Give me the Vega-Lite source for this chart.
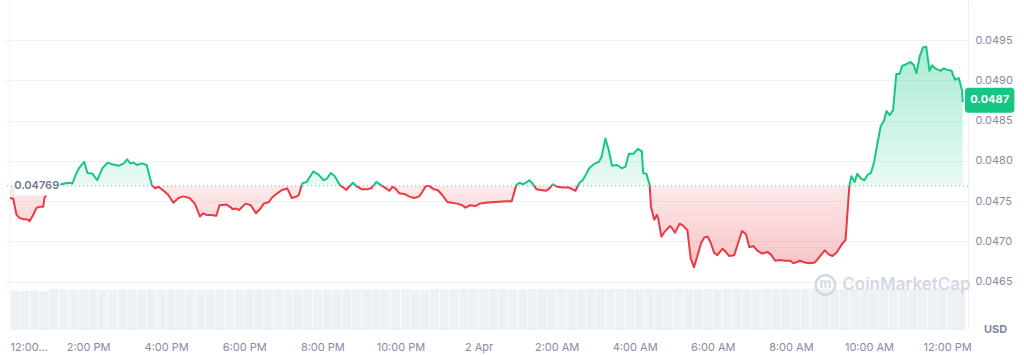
{
"$schema": "https://vega.github.io/schema/vega-lite/v6.json",
"width": 963, "height": 330, "autosize": "none",
"padding": {"left": 5, "top": 0, "right": 56, "bottom": 25},
"background": "white",
"config": {"view": {"stroke": null}, "font": "Inter",
  "axis": {"labelFont": "Inter", "labelColor": "#858ca2", "labelFontSize": 11, "ticks": false, "domain": false, "gridColor": "#eff2f5", "titleFont": "Inter"}},
"datasets": {
"vol": [
{"t":"2024-04-01T12:07:30Z","v":0.95},{"t":"2024-04-01T12:22:30Z","v":0.95},{"t":"2024-04-01T12:37:30Z","v":0.955},{"t":"2024-04-01T12:52:30Z","v":0.95},
{"t":"2024-04-01T13:07:30Z","v":1.0},{"t":"2024-04-01T13:22:30Z","v":0.99},{"t":"2024-04-01T13:37:30Z","v":0.985},{"t":"2024-04-01T13:52:30Z","v":0.985},
{"t":"2024-04-01T14:07:30Z","v":0.99},{"t":"2024-04-01T14:22:30Z","v":0.985},{"t":"2024-04-01T14:37:30Z","v":0.985},{"t":"2024-04-01T14:52:30Z","v":0.99},
{"t":"2024-04-01T15:07:30Z","v":0.985},{"t":"2024-04-01T15:22:30Z","v":0.985},{"t":"2024-04-01T15:37:30Z","v":0.99},{"t":"2024-04-01T15:52:30Z","v":0.985},
{"t":"2024-04-01T16:07:30Z","v":0.985},{"t":"2024-04-01T16:22:30Z","v":0.99},{"t":"2024-04-01T16:37:30Z","v":0.985},{"t":"2024-04-01T16:52:30Z","v":0.985},
{"t":"2024-04-01T17:07:30Z","v":0.985},{"t":"2024-04-01T17:22:30Z","v":0.99},{"t":"2024-04-01T17:37:30Z","v":0.985},{"t":"2024-04-01T17:52:30Z","v":0.985},
{"t":"2024-04-01T18:07:30Z","v":0.99},{"t":"2024-04-01T18:22:30Z","v":0.985},{"t":"2024-04-01T18:37:30Z","v":0.985},{"t":"2024-04-01T18:52:30Z","v":0.99},
{"t":"2024-04-01T19:07:30Z","v":0.985},{"t":"2024-04-01T19:22:30Z","v":0.985},{"t":"2024-04-01T19:37:30Z","v":0.99},{"t":"2024-04-01T19:52:30Z","v":0.985},
{"t":"2024-04-01T20:07:30Z","v":0.985},{"t":"2024-04-01T20:22:30Z","v":0.985},{"t":"2024-04-01T20:37:30Z","v":0.99},{"t":"2024-04-01T20:52:30Z","v":0.985},
{"t":"2024-04-01T21:07:30Z","v":0.985},{"t":"2024-04-01T21:22:30Z","v":0.99},{"t":"2024-04-01T21:37:30Z","v":0.985},{"t":"2024-04-01T21:52:30Z","v":0.985},
{"t":"2024-04-01T22:07:30Z","v":0.99},{"t":"2024-04-01T22:22:30Z","v":0.985},{"t":"2024-04-01T22:37:30Z","v":0.985},{"t":"2024-04-01T22:52:30Z","v":0.99},
{"t":"2024-04-01T23:07:30Z","v":0.985},{"t":"2024-04-01T23:22:30Z","v":0.99},{"t":"2024-04-01T23:37:30Z","v":1.0},{"t":"2024-04-01T23:52:30Z","v":1.0},
{"t":"2024-04-02T00:07:30Z","v":1.0},{"t":"2024-04-02T00:22:30Z","v":0.995},{"t":"2024-04-02T00:37:30Z","v":0.99},{"t":"2024-04-02T00:52:30Z","v":0.99},
{"t":"2024-04-02T01:07:30Z","v":0.99},{"t":"2024-04-02T01:22:30Z","v":0.995},{"t":"2024-04-02T01:37:30Z","v":0.99},{"t":"2024-04-02T01:52:30Z","v":0.99},
{"t":"2024-04-02T02:07:30Z","v":0.995},{"t":"2024-04-02T02:22:30Z","v":0.99},{"t":"2024-04-02T02:37:30Z","v":0.99},{"t":"2024-04-02T02:52:30Z","v":0.995},
{"t":"2024-04-02T03:07:30Z","v":0.99},{"t":"2024-04-02T03:22:30Z","v":0.99},{"t":"2024-04-02T03:37:30Z","v":0.995},{"t":"2024-04-02T03:52:30Z","v":0.99},
{"t":"2024-04-02T04:07:30Z","v":0.99},{"t":"2024-04-02T04:22:30Z","v":0.995},{"t":"2024-04-02T04:37:30Z","v":0.99},{"t":"2024-04-02T04:52:30Z","v":0.99},
{"t":"2024-04-02T05:07:30Z","v":0.995},{"t":"2024-04-02T05:22:30Z","v":0.99},{"t":"2024-04-02T05:37:30Z","v":0.99},{"t":"2024-04-02T05:52:30Z","v":0.995},
{"t":"2024-04-02T06:07:30Z","v":0.99},{"t":"2024-04-02T06:22:30Z","v":0.99},{"t":"2024-04-02T06:37:30Z","v":0.995},{"t":"2024-04-02T06:52:30Z","v":0.99},
{"t":"2024-04-02T07:07:30Z","v":0.99},{"t":"2024-04-02T07:22:30Z","v":0.995},{"t":"2024-04-02T07:37:30Z","v":0.99},{"t":"2024-04-02T07:52:30Z","v":0.995},
{"t":"2024-04-02T08:07:30Z","v":1.0},{"t":"2024-04-02T08:22:30Z","v":1.0},{"t":"2024-04-02T08:37:30Z","v":1.0},{"t":"2024-04-02T08:52:30Z","v":1.0},
{"t":"2024-04-02T09:07:30Z","v":1.0},{"t":"2024-04-02T09:22:30Z","v":1.0},{"t":"2024-04-02T09:37:30Z","v":0.995},{"t":"2024-04-02T09:52:30Z","v":0.995},
{"t":"2024-04-02T10:07:30Z","v":0.995},{"t":"2024-04-02T10:22:30Z","v":0.995},{"t":"2024-04-02T10:37:30Z","v":0.995},{"t":"2024-04-02T10:52:30Z","v":0.995},
{"t":"2024-04-02T11:07:30Z","v":0.995},{"t":"2024-04-02T11:22:30Z","v":0.995},{"t":"2024-04-02T11:37:30Z","v":0.995},{"t":"2024-04-02T11:52:30Z","v":0.995},
{"t":"2024-04-02T12:07:30Z","v":0.995},{"t":"2024-04-02T12:21:00Z","v":0.995}
],
"price": [
{"t":"2024-04-01T12:00Z","p":0.04754},{"t":"2024-04-01T12:05Z","p":0.04753},{"t":"2024-04-01T12:10Z","p":0.04733},{"t":"2024-04-01T12:15Z","p":0.04729},
{"t":"2024-04-01T12:20Z","p":0.04728},{"t":"2024-04-01T12:28Z","p":0.04727},{"t":"2024-04-01T12:30Z","p":0.04725},{"t":"2024-04-01T12:35Z","p":0.04732},
{"t":"2024-04-01T12:41Z","p":0.04742},{"t":"2024-04-01T12:46Z","p":0.04743},{"t":"2024-04-01T12:51Z","p":0.04743},{"t":"2024-04-01T12:53Z","p":0.04754},
{"t":"2024-04-01T13:01Z","p":0.04765},{"t":"2024-04-01T13:11Z","p":0.04770},{"t":"2024-04-01T13:19Z","p":0.04771},{"t":"2024-04-01T13:24Z","p":0.04772},
{"t":"2024-04-01T13:31Z","p":0.04773},{"t":"2024-04-01T13:36Z","p":0.04772},{"t":"2024-04-01T13:41Z","p":0.04783},{"t":"2024-04-01T13:46Z","p":0.04791},
{"t":"2024-04-01T13:54Z","p":0.04799},{"t":"2024-04-01T13:59Z","p":0.04785},{"t":"2024-04-01T14:07Z","p":0.04784},{"t":"2024-04-01T14:14Z","p":0.04776},
{"t":"2024-04-01T14:22Z","p":0.04791},{"t":"2024-04-01T14:30Z","p":0.04798},{"t":"2024-04-01T14:37Z","p":0.04796},{"t":"2024-04-01T14:47Z","p":0.04794},
{"t":"2024-04-01T14:55Z","p":0.04797},{"t":"2024-04-01T15:00Z","p":0.04802},{"t":"2024-04-01T15:05Z","p":0.04797},{"t":"2024-04-01T15:10Z","p":0.04798},
{"t":"2024-04-01T15:15Z","p":0.04795},{"t":"2024-04-01T15:23Z","p":0.04797},{"t":"2024-04-01T15:30Z","p":0.04795},{"t":"2024-04-01T15:38Z","p":0.04770},
{"t":"2024-04-01T15:43Z","p":0.04766},{"t":"2024-04-01T15:48Z","p":0.04768},{"t":"2024-04-01T15:56Z","p":0.04763},{"t":"2024-04-01T16:03Z","p":0.04758},
{"t":"2024-04-01T16:11Z","p":0.04748},{"t":"2024-04-01T16:19Z","p":0.04754},{"t":"2024-04-01T16:26Z","p":0.04756},{"t":"2024-04-01T16:36Z","p":0.04754},
{"t":"2024-04-01T16:44Z","p":0.04747},{"t":"2024-04-01T16:52Z","p":0.04731},{"t":"2024-04-01T16:57Z","p":0.04735},{"t":"2024-04-01T17:02Z","p":0.04733},
{"t":"2024-04-01T17:09Z","p":0.04733},{"t":"2024-04-01T17:17Z","p":0.04732},{"t":"2024-04-01T17:22Z","p":0.04745},{"t":"2024-04-01T17:32Z","p":0.04746},
{"t":"2024-04-01T17:40Z","p":0.04742},{"t":"2024-04-01T17:42Z","p":0.04740},{"t":"2024-04-01T17:47Z","p":0.04741},{"t":"2024-04-01T17:52Z","p":0.04739},
{"t":"2024-04-01T18:02Z","p":0.04747},{"t":"2024-04-01T18:10Z","p":0.04745},{"t":"2024-04-01T18:18Z","p":0.04735},{"t":"2024-04-01T18:25Z","p":0.04741},
{"t":"2024-04-01T18:30Z","p":0.04747},{"t":"2024-04-01T18:38Z","p":0.04749},{"t":"2024-04-01T18:43Z","p":0.04755},{"t":"2024-04-01T18:51Z","p":0.04760},
{"t":"2024-04-01T18:58Z","p":0.04764},{"t":"2024-04-01T19:06Z","p":0.04766},{"t":"2024-04-01T19:13Z","p":0.04754},{"t":"2024-04-01T19:21Z","p":0.04756},
{"t":"2024-04-01T19:24Z","p":0.04758},{"t":"2024-04-01T19:29Z","p":0.04772},{"t":"2024-04-01T19:36Z","p":0.04774},{"t":"2024-04-01T19:46Z","p":0.04787},
{"t":"2024-04-01T19:54Z","p":0.04783},{"t":"2024-04-01T20:02Z","p":0.04776},{"t":"2024-04-01T20:07Z","p":0.04778},{"t":"2024-04-01T20:13Z","p":0.04785},
{"t":"2024-04-01T20:19Z","p":0.04781},{"t":"2024-04-01T20:27Z","p":0.04770},{"t":"2024-04-01T20:32Z","p":0.04767},{"t":"2024-04-01T20:37Z","p":0.04764},
{"t":"2024-04-01T20:42Z","p":0.04769},{"t":"2024-04-01T20:47Z","p":0.04773},{"t":"2024-04-01T20:52Z","p":0.04769},{"t":"2024-04-01T21:00Z","p":0.04765},
{"t":"2024-04-01T21:10Z","p":0.04765},{"t":"2024-04-01T21:15Z","p":0.04766},{"t":"2024-04-01T21:23Z","p":0.04774},{"t":"2024-04-01T21:30Z","p":0.04770},
{"t":"2024-04-01T21:38Z","p":0.04766},{"t":"2024-04-01T21:43Z","p":0.04763},{"t":"2024-04-01T21:48Z","p":0.04768},{"t":"2024-04-01T21:53Z","p":0.04765},
{"t":"2024-04-01T21:58Z","p":0.04760},{"t":"2024-04-01T22:06Z","p":0.04759},{"t":"2024-04-01T22:13Z","p":0.04756},{"t":"2024-04-01T22:21Z","p":0.04754},
{"t":"2024-04-01T22:29Z","p":0.04756},{"t":"2024-04-01T22:34Z","p":0.04762},{"t":"2024-04-01T22:39Z","p":0.04769},{"t":"2024-04-01T22:44Z","p":0.04769},
{"t":"2024-04-01T22:51Z","p":0.04765},{"t":"2024-04-01T22:57Z","p":0.04764},{"t":"2024-04-01T23:04Z","p":0.04758},{"t":"2024-04-01T23:12Z","p":0.04749},
{"t":"2024-04-01T23:19Z","p":0.04748},{"t":"2024-04-01T23:27Z","p":0.04747},{"t":"2024-04-01T23:35Z","p":0.04745},{"t":"2024-04-01T23:40Z","p":0.04742},
{"t":"2024-04-01T23:47Z","p":0.04745},{"t":"2024-04-01T23:55Z","p":0.04744},{"t":"2024-04-02T00:02Z","p":0.04747},{"t":"2024-04-02T00:10Z","p":0.04748},
{"t":"2024-04-02T00:25Z","p":0.04749},{"t":"2024-04-02T00:43Z","p":0.04750},{"t":"2024-04-02T00:51Z","p":0.04750},{"t":"2024-04-02T00:58Z","p":0.04770},
{"t":"2024-04-02T01:03Z","p":0.04773},{"t":"2024-04-02T01:08Z","p":0.04771},{"t":"2024-04-02T01:13Z","p":0.04773},{"t":"2024-04-02T01:18Z","p":0.04776},
{"t":"2024-04-02T01:23Z","p":0.04772},{"t":"2024-04-02T01:29Z","p":0.04765},{"t":"2024-04-02T01:36Z","p":0.04764},{"t":"2024-04-02T01:44Z","p":0.04763},
{"t":"2024-04-02T01:49Z","p":0.04766},{"t":"2024-04-02T01:54Z","p":0.04771},{"t":"2024-04-02T02:01Z","p":0.04768},{"t":"2024-04-02T02:09Z","p":0.04767},
{"t":"2024-04-02T02:19Z","p":0.04767},{"t":"2024-04-02T02:29Z","p":0.04763},{"t":"2024-04-02T02:35Z","p":0.04773},{"t":"2024-04-02T02:40Z","p":0.04776},
{"t":"2024-04-02T02:45Z","p":0.04783},{"t":"2024-04-02T02:50Z","p":0.04791},{"t":"2024-04-02T02:57Z","p":0.04796},{"t":"2024-04-02T03:05Z","p":0.04799},
{"t":"2024-04-02T03:09Z","p":0.04805},{"t":"2024-04-02T03:15Z","p":0.04828},{"t":"2024-04-02T03:20Z","p":0.04814},{"t":"2024-04-02T03:25Z","p":0.04794},
{"t":"2024-04-02T03:33Z","p":0.04795},{"t":"2024-04-02T03:40Z","p":0.04791},{"t":"2024-04-02T03:46Z","p":0.04793},{"t":"2024-04-02T03:51Z","p":0.04809},
{"t":"2024-04-02T03:58Z","p":0.04809},{"t":"2024-04-02T04:05Z","p":0.04815},{"t":"2024-04-02T04:11Z","p":0.04812},{"t":"2024-04-02T04:13Z","p":0.04785},
{"t":"2024-04-02T04:18Z","p":0.04784},{"t":"2024-04-02T04:23Z","p":0.04770},{"t":"2024-04-02T04:25Z","p":0.04743},{"t":"2024-04-02T04:30Z","p":0.04727},
{"t":"2024-04-02T04:34Z","p":0.04733},{"t":"2024-04-02T04:36Z","p":0.04729},{"t":"2024-04-02T04:41Z","p":0.04706},{"t":"2024-04-02T04:46Z","p":0.04712},
{"t":"2024-04-02T04:54Z","p":0.04719},{"t":"2024-04-02T04:56Z","p":0.04718},{"t":"2024-04-02T05:02Z","p":0.04711},{"t":"2024-04-02T05:09Z","p":0.04722},
{"t":"2024-04-02T05:14Z","p":0.04720},{"t":"2024-04-02T05:21Z","p":0.04714},{"t":"2024-04-02T05:26Z","p":0.04679},{"t":"2024-04-02T05:31Z","p":0.04668},
{"t":"2024-04-02T05:36Z","p":0.04681},{"t":"2024-04-02T05:42Z","p":0.04698},{"t":"2024-04-02T05:47Z","p":0.04705},{"t":"2024-04-02T05:52Z","p":0.04706},
{"t":"2024-04-02T05:57Z","p":0.04698},{"t":"2024-04-02T06:02Z","p":0.04686},{"t":"2024-04-02T06:07Z","p":0.04683},{"t":"2024-04-02T06:15Z","p":0.04691},
{"t":"2024-04-02T06:20Z","p":0.04687},{"t":"2024-04-02T06:25Z","p":0.04682},{"t":"2024-04-02T06:33Z","p":0.04683},{"t":"2024-04-02T06:38Z","p":0.04696},
{"t":"2024-04-02T06:45Z","p":0.04713},{"t":"2024-04-02T06:51Z","p":0.04709},{"t":"2024-04-02T06:56Z","p":0.04693},{"t":"2024-04-02T07:03Z","p":0.04694},
{"t":"2024-04-02T07:08Z","p":0.04689},{"t":"2024-04-02T07:16Z","p":0.04685},{"t":"2024-04-02T07:24Z","p":0.04687},{"t":"2024-04-02T07:29Z","p":0.04684},
{"t":"2024-04-02T07:36Z","p":0.04676},{"t":"2024-04-02T07:44Z","p":0.04677},{"t":"2024-04-02T07:51Z","p":0.04676},{"t":"2024-04-02T07:59Z","p":0.04676},
{"t":"2024-04-02T08:04Z","p":0.04673},{"t":"2024-04-02T08:14Z","p":0.04676},{"t":"2024-04-02T08:21Z","p":0.04674},{"t":"2024-04-02T08:29Z","p":0.04673},
{"t":"2024-04-02T08:37Z","p":0.04674},{"t":"2024-04-02T08:44Z","p":0.04681},{"t":"2024-04-02T08:52Z","p":0.04689},{"t":"2024-04-02T08:58Z","p":0.04684},
{"t":"2024-04-02T09:04Z","p":0.04682},{"t":"2024-04-02T09:10Z","p":0.04686},{"t":"2024-04-02T09:18Z","p":0.04696},{"t":"2024-04-02T09:24Z","p":0.04702},
{"t":"2024-04-02T09:30Z","p":0.04770},{"t":"2024-04-02T09:33Z","p":0.04781},{"t":"2024-04-02T09:38Z","p":0.04774},{"t":"2024-04-02T09:42Z","p":0.04784},
{"t":"2024-04-02T09:48Z","p":0.04778},{"t":"2024-04-02T09:53Z","p":0.04776},{"t":"2024-04-02T09:58Z","p":0.04783},{"t":"2024-04-02T10:03Z","p":0.04785},
{"t":"2024-04-02T10:08Z","p":0.04799},{"t":"2024-04-02T10:13Z","p":0.04822},{"t":"2024-04-02T10:18Z","p":0.04843},{"t":"2024-04-02T10:23Z","p":0.04850},
{"t":"2024-04-02T10:27Z","p":0.04862},{"t":"2024-04-02T10:32Z","p":0.04857},{"t":"2024-04-02T10:37Z","p":0.04863},{"t":"2024-04-02T10:42Z","p":0.04908},
{"t":"2024-04-02T10:47Z","p":0.04908},{"t":"2024-04-02T10:51Z","p":0.04918},{"t":"2024-04-02T10:59Z","p":0.04921},{"t":"2024-04-02T11:04Z","p":0.04923},
{"t":"2024-04-02T11:09Z","p":0.04919},{"t":"2024-04-02T11:13Z","p":0.04909},{"t":"2024-04-02T11:18Z","p":0.04930},{"t":"2024-04-02T11:23Z","p":0.04941},
{"t":"2024-04-02T11:28Z","p":0.04942},{"t":"2024-04-02T11:33Z","p":0.04912},{"t":"2024-04-02T11:37Z","p":0.04919},{"t":"2024-04-02T11:42Z","p":0.04915},
{"t":"2024-04-02T11:50Z","p":0.04912},{"t":"2024-04-02T11:55Z","p":0.04915},{"t":"2024-04-02T12:01Z","p":0.04913},{"t":"2024-04-02T12:07Z","p":0.04912},
{"t":"2024-04-02T12:12Z","p":0.04901},{"t":"2024-04-02T12:18Z","p":0.04903},{"t":"2024-04-02T12:23Z","p":0.04888},{"t":"2024-04-02T12:24Z","p":0.04873}
]
},
"layer": [
{
  "data": {"name": "vol"},
  "mark": {"type": "bar", "size": 9, "color": "#edf0f5"},
  "encoding": {
    "x": {"field": "t", "type": "temporal", "title": null,
      "scale": {"type": "utc", "domain": [{"year": 2024, "month": 4, "date": 1, "hours": 12, "utc": true}, {"year": 2024, "month": 4, "date": 2, "hours": 12, "minutes": 24, "seconds": 30, "utc": true}]},
      "axis": {"grid": false, "labelFlush": false, "labelPadding": 11, "labelOverlap": false,
        "labelAlign": {"condition": {"test": "utcdate(datum.value) == 1 && utchours(datum.value) == 12", "value": "left"}, "value": "center"},
        "values": [
          {"year": 2024, "month": 4, "date": 1, "hours": 12, "utc": true},
          {"year": 2024, "month": 4, "date": 1, "hours": 14, "utc": true},
          {"year": 2024, "month": 4, "date": 1, "hours": 16, "utc": true},
          {"year": 2024, "month": 4, "date": 1, "hours": 18, "utc": true},
          {"year": 2024, "month": 4, "date": 1, "hours": 20, "utc": true},
          {"year": 2024, "month": 4, "date": 1, "hours": 22, "utc": true},
          {"year": 2024, "month": 4, "date": 2, "hours": 0, "utc": true},
          {"year": 2024, "month": 4, "date": 2, "hours": 2, "utc": true},
          {"year": 2024, "month": 4, "date": 2, "hours": 4, "utc": true},
          {"year": 2024, "month": 4, "date": 2, "hours": 6, "utc": true},
          {"year": 2024, "month": 4, "date": 2, "hours": 8, "utc": true},
          {"year": 2024, "month": 4, "date": 2, "hours": 10, "utc": true},
          {"year": 2024, "month": 4, "date": 2, "hours": 12, "utc": true}],
        "labelExpr": "(utcdate(datum.value) == 1 && utchours(datum.value) == 12) ? '12:00...' : (utchours(datum.value) == 0 ? utcFormat(datum.value, '%-d %b') : utcFormat(datum.value, '%-I:%M %p'))"}},
    "y": {"field": "v", "type": "quantitative", "title": null, "scale": {"domain": [0, 8]}, "axis": null}
  }
},
{
  "data": {"values": [{}]},
  "layer": [
    {
      "data": {"name": "price"},
      "mark": {"type": "area", "line": false,
        "fill": {"gradient": "linear", "x1": 0, "y1": 0, "x2": 0, "y2": 1,
          "stops": [
            {"offset": 0, "color": "rgba(22,199,132,0.36)"},
            {"offset": 0.6314, "color": "rgba(22,199,132,0.09)"},
            {"offset": 0.6314, "color": "rgba(234,57,67,0.11)"},
            {"offset": 1, "color": "rgba(234,57,67,0.30)"}]}},
      "encoding": {
        "x": {"field": "t", "type": "temporal", "title": null},
        "y": {"field": "p", "type": "quantitative", "title": "USD",
          "scale": {"domain": [0.0459, 0.05], "nice": false, "zero": false},
          "axis": {"orient": "right", "values": [0.0465, 0.047, 0.0475, 0.048, 0.0485, 0.049, 0.0495], "format": ".4f",
            "grid": true, "labelPadding": 7, "domain": true, "domainColor": "#eff2f5", "title": "USD",
            "titleAngle": 0, "titleX": 27, "titleY": 329, "titleAlign": "center", "titleBaseline": "middle",
            "titleFontSize": 11, "titleFontWeight": 700, "titleColor": "#808a9d"}},
        "y2": {"datum": 0.04769}
      }
    },
    {
      "mark": {"type": "rule", "color": "#eff2f5", "strokeWidth": 1},
      "encoding": {"x": {"datum": {"year": 2024, "month": 4, "date": 1, "hours": 12, "utc": true}, "type": "temporal"}}
    },
    {
      "mark": {"type": "rule", "color": "#a1a7bb", "strokeWidth": 1, "strokeDash": [1, 3]},
      "encoding": {"y": {"datum": 0.04769}}
    },
    {
      "data": {"name": "price"},
      "mark": {"type": "line", "strokeWidth": 2, "interpolate": "linear", "strokeJoin": "round",
        "stroke": {"gradient": "linear", "x1": 0, "y1": 0, "x2": 0, "y2": 1,
          "stops": [
            {"offset": 0, "color": "#16c784"},
            {"offset": 0.6314, "color": "#16c784"},
            {"offset": 0.6314, "color": "#ea3943"},
            {"offset": 1, "color": "#ea3943"}]}},
      "encoding": {
        "x": {"field": "t", "type": "temporal", "title": null},
        "y": {"field": "p", "type": "quantitative", "title": "USD"}
      }
    },
    {
      "mark": {"type": "rect", "color": "white"},
      "encoding": {
        "x": {"datum": {"year": 2024, "month": 4, "date": 1, "hours": 12, "minutes": 7, "utc": true}, "type": "temporal"},
        "x2": {"datum": {"year": 2024, "month": 4, "date": 1, "hours": 13, "minutes": 17, "utc": true}},
        "y": {"datum": 0.04779}, "y2": {"datum": 0.04757}
      }
    },
    {
      "mark": {"type": "text", "text": "0.04769", "fontSize": 11, "fontWeight": 600, "color": "#6f7a8e", "align": "center", "baseline": "middle"},
      "encoding": {
        "x": {"datum": {"year": 2024, "month": 4, "date": 1, "hours": 12, "minutes": 41, "utc": true}, "type": "temporal"},
        "y": {"datum": 0.04769}
      }
    },
    {
      "mark": {"type": "point", "shape": "circle", "filled": false, "size": 380, "strokeWidth": 2.5, "color": "#d3d9e4", "opacity": 1},
      "encoding": {
        "x": {"datum": {"year": 2024, "month": 4, "date": 2, "hours": 8, "minutes": 53, "utc": true}, "type": "temporal"},
        "y": {"datum": 0.04646}
      }
    },
    {
      "mark": {"type": "text", "text": "m", "fontSize": 13, "fontWeight": 700, "color": "#d3d9e4", "align": "center", "baseline": "middle"},
      "encoding": {
        "x": {"datum": {"year": 2024, "month": 4, "date": 2, "hours": 8, "minutes": 53, "utc": true}, "type": "temporal"},
        "y": {"datum": 0.04647}
      }
    },
    {
      "mark": {"type": "text", "text": "CoinMarketCap", "fontSize": 17, "fontWeight": 600, "color": "#d3d9e4", "align": "left", "baseline": "middle"},
      "encoding": {
        "x": {"datum": {"year": 2024, "month": 4, "date": 2, "hours": 9, "minutes": 19, "utc": true}, "type": "temporal"},
        "y": {"datum": 0.04646}
      }
    },
    {
      "mark": {"type": "rect", "color": "#16c784", "cornerRadius": 3},
      "encoding": {
        "x": {"datum": {"year": 2024, "month": 4, "date": 2, "hours": 12, "minutes": 27, "seconds": 30, "utc": true}, "type": "temporal"},
        "x2": {"datum": {"year": 2024, "month": 4, "date": 2, "hours": 13, "minutes": 43, "seconds": 30, "utc": true}},
        "y": {"datum": 0.04891}, "y2": {"datum": 0.04860}
      }
    },
    {
      "mark": {"type": "text", "text": "0.0487", "fontSize": 11, "fontWeight": 700, "color": "white", "align": "center", "baseline": "middle"},
      "encoding": {
        "x": {"datum": {"year": 2024, "month": 4, "date": 2, "hours": 13, "minutes": 5, "seconds": 30, "utc": true}, "type": "temporal"},
        "y": {"datum": 0.048755}
      }
    }
  ]
}
],
"resolve": {"scale": {"y": "independent"}}
}
